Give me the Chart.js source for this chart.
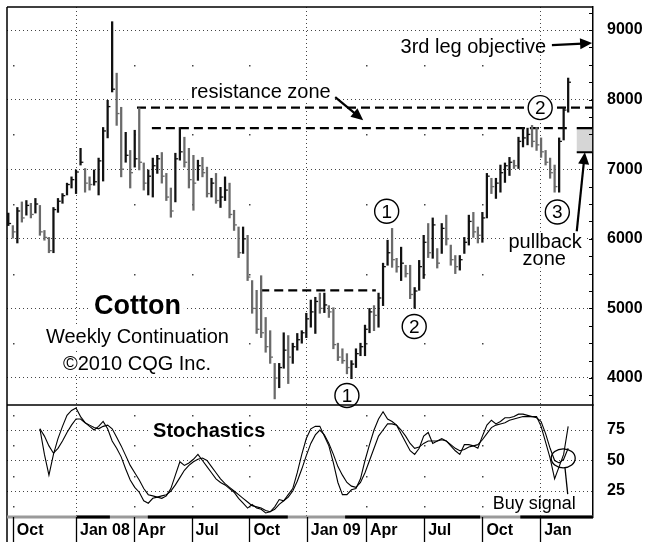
<!DOCTYPE html>
<html>
<head>
<meta charset="utf-8">
<script src="https://cdn.jsdelivr.net/npm/chart.js@4"></script>
<style>
html, body { margin: 0; padding: 0; background: #fff; }
</style>
</head>
<body>
<canvas id="myChart" width="647" height="542"></canvas>
<script>
// weekly bars, index 0 = last week of Sep 2007
const highs = [6370,6190,6450,6530,6550,6510,6580,6480,6120,6020,
  6450,6580,6650,6800,6890,6990,7300,7010,6890,6990,
  7160,7600,7990,9120,8380,7890,7530,7270,7560,7880,
  7090,6990,7160,7200,7240,6940,6730,7230,7600,7460,
  7300,7200,7130,7170,7030,6870,6940,6740,6890,6800,
  6410,6170,6170,6050,5400,5260,5470,4870,4680,4210,
  4210,4650,4610,4500,4640,4680,4930,5120,5160,5220,
  5220,5040,5010,4500,4420,4350,4250,4420,4500,4760,
  5000,5040,5220,5650,5980,6150,5720,5880,5620,5620,
  5300,5690,6050,6220,6300,5860,6220,6340,5910,5760,
  5760,6020,6340,6380,6170,6380,6940,6870,6870,7060,
  7090,7170,7130,7460,7600,7590,7630,7600,7450,7270,
  7160,7060,7450,7890,8310];
const lows = [6190,6010,5940,6240,6340,6300,6370,6050,5980,5800,
  5800,6380,6510,6630,6730,6650,7060,6670,6700,6770,
  6630,6830,7450,8110,7630,6890,7100,6730,7030,6990,
  6700,6630,6600,6940,6800,6550,6310,6530,7130,7030,
  6730,6410,6840,6890,6600,6600,6510,6450,6550,6300,
  6120,5730,5790,5400,4930,4640,4580,4370,4210,3700,
  3860,4140,3920,4210,4400,4500,4580,4730,4640,4930,
  4940,4870,4420,4250,4210,4060,3990,4150,4320,4320,
  4650,4680,4730,5040,5620,5590,5520,5400,5450,5140,
  5000,5260,5430,5730,5720,5580,5790,5910,5620,5500,
  5550,5790,5910,6020,5940,5950,6300,6650,6580,6670,
  6810,6910,7010,7010,7320,7350,7320,7270,7170,7060,
  6870,6670,6670,7420,7820];
const closes = [6220,6100,6400,6300,6480,6350,6500,6100,6020,5830,
  6420,6540,6620,6780,6850,6960,7100,6800,6780,6820,
  7120,7550,7900,8150,7800,7000,7200,6950,7150,7100,
  6800,6900,7050,7150,6900,6600,6400,7150,7250,7100,
  6850,6800,7050,6950,6650,6800,6550,6600,6700,6350,
  6200,5800,6000,5450,5000,4700,4650,4450,4300,4000,
  4150,4400,4300,4450,4550,4650,4850,4950,5100,5000,
  5050,4950,4480,4300,4250,4150,4200,4350,4450,4700,
  4950,4900,5150,5600,5800,5700,5600,5650,5500,5200,
  5250,5600,5950,5800,6200,5650,6150,6000,5700,5600,
  5700,5950,6250,6100,6050,6300,6900,6750,6800,6950,
  7050,7100,7050,7400,7450,7500,7400,7350,7250,7100,
  6950,6750,7400,7850,8250];
const stochK = [null,null,null,null,null,null,null,76,55,38,
  55,68,78,87,91,93,86,81,78,75,
  78,82,76,66,60,53,43,34,28,24,
  17,15,19,20,19,21,27,38,49,46,
  48,51,55,50,45,40,35,32,30,27,
  24,19,15,11,14,11,10,7,8,12,
  18,17,22,27,40,55,68,76,78,78,
  70,62,48,32,22,22,26,27,35,50,
  63,75,84,90,84,82,79,72,65,58,
  55,60,70,73,64,66,68,66,62,58,
  55,63,63,62,60,70,79,83,80,82,
  85,85,86,88,88,87,86,86,78,65,
  52,35,45,55,78];
const stochD = [null,null,null,null,null,null,null,76,70,62,
  56,60,66,73,79,84,84,81,79,77,
  76,78,79,76,69,62,54,46,40,34,
  27,22,21,20,21,22,25,30,36,42,
  46,49,51,52,50,45,40,35,31,28,
  25,22,19,16,13,12,11,9,8,10,
  14,17,20,25,33,43,54,64,71,75,
  71,64,55,45,38,32,29,28,32,40,
  50,60,70,75,80,80,79,75,70,64,
  60,61,64,66,66,66,67,66,63,60,
  58,59,61,62,63,67,72,77,79,80,
  81,83,84,85,86,86,86,85,82,72,
  60,50,48,51,60];

const priceTicks = [4000, 5000, 6000, 7000, 8000, 9000];
const stochTicks = [25, 50, 75];
const quarterTicks = [1.0, 15.0, 27.8, 40.6, 53.4, 66.1, 79.2, 92.1, 105.0, 117.8];
const quarterLabels = ['Oct', 'Jan 08', 'Apr', 'Jul', 'Oct', 'Jan 09', 'Apr', 'Jul', 'Oct', 'Jan'];
// black pieces of the contract bar under the stochastics
const rollBlack = [[15.2, 22.5], [30.9, 61.9], [74.6, 104.5], [113.4, 129.5]];

// chart notes (week index, price or stochastic value)
const resistanceTop = 7885, resistanceLow = 7590, neckline = 5260;
const FONT = "'Liberation Sans', Arial, sans-serif";

const notes = [
  {text: 'Cotton', x: 28.6, y: 5040, axis: 'y', font: 'bold 27px ' + FONT, bg: 26},
  {text: 'Weekly Continuation', x: 28.6, y: 4590, axis: 'y', font: '20px ' + FONT, bg: 22},
  {text: '\u00a92010 CQG Inc.', x: 28.5, y: 4215, axis: 'y', font: '20px ' + FONT, bg: 22},
  {text: 'resistance zone', x: 55.9, y: 8110, axis: 'y', font: '20px ' + FONT, bg: 20},
  {text: '3rd leg objective', x: 103.0, y: 8760, axis: 'y', font: '20px ' + FONT, bg: 0},
  {text: 'pullback', x: 118.9, y: 5965, axis: 'y', font: '20px ' + FONT, bg: 19},
  {text: 'zone', x: 118.7, y: 5715, axis: 'y', font: '20px ' + FONT, bg: 17},
  {text: 'Stochastics', x: 44.5, y: 74.5, axis: 'y2', font: 'bold 20px ' + FONT, bg: 20},
  {text: 'Buy signal', x: 116.5, y: 15.5, axis: 'y2', font: '18px ' + FONT, bg: 0}
];
const circled = [
  {n: '1', x: 75.0, y: 3748}, {n: '1', x: 83.8, y: 6395}, {n: '2', x: 89.9, y: 4741},
  {n: '2', x: 117.8, y: 7885}, {n: '3', x: 121.6, y: 6385}
];
const arrows = [
  {x1: 72.4, y1: 8036, x2: 78.6, y2: 7705},
  {x1: 120.4, y1: 8784, x2: 129.3, y2: 8813},
  {x1: 125.9, y1: 6108, x2: 127.7, y2: 7244}
];

Chart.defaults.font.family = FONT;
Chart.defaults.color = '#000';

function barColor(i) {
  return (i > 0 && closes[i] < closes[i - 1]) ? '#6a6a6a' : '#111';
}

function drawArrow(ctx, x1, y1, x2, y2) {
  const a = Math.atan2(y2 - y1, x2 - x1), h = 12, w = 5.5;
  ctx.lineWidth = 2.2;
  ctx.beginPath();
  ctx.moveTo(x1, y1);
  ctx.lineTo(x2 - Math.cos(a) * h * 0.8, y2 - Math.sin(a) * h * 0.8);
  ctx.stroke();
  ctx.beginPath();
  ctx.moveTo(x2, y2);
  ctx.lineTo(x2 - h * Math.cos(a) + w * Math.sin(a), y2 - h * Math.sin(a) - w * Math.cos(a));
  ctx.lineTo(x2 - h * Math.cos(a) - w * Math.sin(a), y2 - h * Math.sin(a) + w * Math.cos(a));
  ctx.closePath();
  ctx.fill();
}

// stop the axes from asking for extra room around their labels
function noPad(s) {
  s.paddingTop = 0; s.paddingBottom = 0; s.paddingLeft = 0; s.paddingRight = 0;
}

const overlay = {
  id: 'overlay',
  beforeDatasetsDraw(chart) {
    const {ctx, scales: {x, y, y2}} = chart;
    ctx.save();
    ctx.fillStyle = '#444';
    quarterTicks.forEach((q, k) => {
      if (quarterLabels[k].startsWith('Jan')) return;
      const px = Math.round(x.getPixelForValue(q));
      for (let v = 4500; v < 9300; v += 1000) ctx.fillRect(px, Math.round(y.getPixelForValue(v)), 1.5, 1.5);
      [12.5, 37.5, 62.5, 87.5].forEach(v => ctx.fillRect(px, Math.round(y2.getPixelForValue(v)), 1.5, 1.5));
    });
    ctx.restore();
  },
  afterDatasetsDraw(chart) {
    const {ctx, scales: {x, y, y2}} = chart;
    const sc = {y, y2};
    ctx.save();
    // close ticks
    ctx.lineWidth = 1.3;
    closes.forEach((c, i) => {
      const px = x.getPixelForValue(i), py = y.getPixelForValue(c);
      ctx.strokeStyle = barColor(i);
      ctx.beginPath(); ctx.moveTo(px, py); ctx.lineTo(px + 2.8, py); ctx.stroke();
    });
    // pullback zone box
    const bx1 = x.getPixelForValue(125.9), bx2 = x.getPixelForValue(129.3);
    const by1 = y.getPixelForValue(resistanceLow), by2 = y.getPixelForValue(7244);
    ctx.fillStyle = '#d6d6d6';
    ctx.fillRect(bx1, by1, bx2 - bx1, by2 - by1);
    ctx.strokeStyle = '#000';
    ctx.lineWidth = 2.2;
    ctx.beginPath(); ctx.moveTo(bx1, by1); ctx.lineTo(bx2, by1); ctx.moveTo(bx1, by2); ctx.lineTo(bx2, by2); ctx.stroke();
    // arrows
    ctx.fillStyle = '#000';
    arrows.forEach(a => drawArrow(ctx, x.getPixelForValue(a.x1), y.getPixelForValue(a.y1),
      x.getPixelForValue(a.x2), y.getPixelForValue(a.y2)));
    // texts
    ctx.textAlign = 'center';
    ctx.textBaseline = 'middle';
    notes.forEach(n => {
      const px = x.getPixelForValue(n.x), py = sc[n.axis].getPixelForValue(n.y);
      ctx.font = n.font;
      if (n.bg) {
        const w = ctx.measureText(n.text).width;
        ctx.fillStyle = '#fff';
        ctx.fillRect(px - w / 2 - 3, py - n.bg / 2, w + 6, n.bg);
      }
      ctx.fillStyle = '#000';
      ctx.fillText(n.text, px, py + 1);
    });
    // circled wave numbers
    ctx.font = '19px ' + FONT;
    ctx.lineWidth = 1.4;
    circled.forEach(c => {
      const px = x.getPixelForValue(c.x), py = y.getPixelForValue(c.y);
      ctx.beginPath(); ctx.arc(px, py, 12, 0, Math.PI * 2);
      ctx.fillStyle = '#fff'; ctx.fill(); ctx.stroke();
      ctx.fillStyle = '#000'; ctx.fillText(c.n, px, py + 1);
    });
    // buy signal ring and pointer
    const cx = x.getPixelForValue(122.9), cy = y2.getPixelForValue(51.8);
    ctx.lineWidth = 1.3;
    ctx.beginPath(); ctx.ellipse(cx, cy, 12, 9.5, 0, 0, Math.PI * 2); ctx.stroke();
    ctx.beginPath();
    ctx.moveTo(x.getPixelForValue(123.3), y2.getPixelForValue(43.9));
    ctx.lineTo(x.getPixelForValue(123.9), y2.getPixelForValue(22.5));
    ctx.stroke();
    ctx.restore();
  },
  afterDraw(chart) {
    const {ctx, chartArea: area, scales: {x, y, y2}} = chart;
    ctx.save();
    ctx.strokeStyle = '#000';
    // frame and panel divider
    ctx.lineWidth = 1.5;
    ctx.beginPath();
    ctx.moveTo(area.left, area.top); ctx.lineTo(area.right, area.top);
    ctx.moveTo(area.left, area.top); ctx.lineTo(area.left, chart.height);
    ctx.moveTo(area.left, y2.top); ctx.lineTo(area.right, y2.top);
    ctx.stroke();
    // minor ticks on the price axis
    ctx.lineWidth = 1;
    for (let v = 3750; v < 9331; v += 250) {
      const py = Math.round(y.getPixelForValue(v)) + 0.5;
      ctx.beginPath(); ctx.moveTo(area.right - 4, py); ctx.lineTo(area.right, py); ctx.stroke();
    }
    // contract bar along the bottom of the stochastics
    ctx.lineWidth = 3;
    ctx.strokeStyle = '#9a9a9a';
    ctx.beginPath(); ctx.moveTo(area.left, area.bottom); ctx.lineTo(area.right, area.bottom); ctx.stroke();
    ctx.strokeStyle = '#000';
    rollBlack.forEach(([a, b]) => {
      ctx.beginPath();
      ctx.moveTo(Math.max(area.left, x.getPixelForValue(a)), area.bottom);
      ctx.lineTo(Math.min(area.right, x.getPixelForValue(b)), area.bottom);
      ctx.stroke();
    });
    // quarter separators in the date strip
    ctx.lineWidth = 1.3;
    quarterTicks.forEach(q => {
      const px = Math.round(x.getPixelForValue(q)) + 0.5;
      ctx.beginPath(); ctx.moveTo(px, area.bottom); ctx.lineTo(px, chart.height); ctx.stroke();
    });
    ctx.restore();
  }
};

const ctx = document.getElementById('myChart').getContext('2d');
const dashed = (pts) => ({
  type: 'line', data: pts, yAxisID: 'y', borderColor: '#000', borderWidth: 2.2,
  borderDash: [9, 5], pointRadius: 0, tension: 0
});

const myChart = new Chart(ctx, {
  type: 'bar',
  data: {
    datasets: [
      {
        type: 'bar',
        label: 'Cotton',
        data: highs.map((h, i) => ({x: i, y: [lows[i], h]})),
        yAxisID: 'y',
        barThickness: 1.6,
        backgroundColor: c => barColor(c.dataIndex),
        borderWidth: 0
      },
      {
        type: 'line', label: '%K', yAxisID: 'y2',
        data: stochK.map((v, i) => ({x: i, y: v})),
        borderColor: '#000', borderWidth: 1.1, pointRadius: 0, tension: 0
      },
      {
        type: 'line', label: '%D', yAxisID: 'y2',
        data: stochD.map((v, i) => ({x: i, y: v})),
        borderColor: '#000', borderWidth: 1.1, pointRadius: 0, tension: 0
      },
      dashed([{x: 28.5, y: resistanceTop}, {x: 129.5, y: resistanceTop}]),
      dashed([{x: 31.8, y: resistanceLow}, {x: 123.7, y: resistanceLow}]),
      dashed([{x: 55.8, y: neckline}, {x: 81.4, y: neckline}])
    ]
  },
  options: {
    responsive: false,
    animation: false,
    layout: {padding: {left: 7, top: 7, right: 0, bottom: 0}},
    plugins: {legend: {display: false}, tooltip: {enabled: false}},
    scales: {
      x: {
        type: 'linear', position: 'bottom', min: -0.29, max: 129.5,
        offset: false,
        afterBuildTicks: s => { s.ticks = quarterTicks.map(v => ({value: v})); },
        afterFit: s => { s.height = 25; noPad(s); },
        ticks: {
          callback: (v, i) => quarterLabels[i],
          align: 'start', labelOffset: 4, padding: 4,
          autoSkip: false, maxRotation: 0,
          font: {size: 16, weight: 'bold'}, color: '#000'
        },
        grid: {
          offset: false, drawTicks: false, lineWidth: 1,
          color: c => (quarterLabels[c.index] || '').startsWith('Jan') ? '#444' : 'rgba(0,0,0,0)'
        },
        border: {display: false, dash: [1, 3]}
      },
      y: {
        type: 'linear', position: 'right', stack: 'panels', stackWeight: 398,
        min: 3612, max: 9331,
        afterBuildTicks: s => { s.ticks = priceTicks.map(v => ({value: v})); },
        afterFit: s => { s.width = 54; noPad(s); },
        ticks: {padding: 14, font: {size: 16, weight: 'bold'}, color: '#000', callback: v => String(v)},
        grid: {color: '#444', lineWidth: 1, drawTicks: false},
        border: {display: true, color: '#000', width: 1.5, dash: [1, 3]}
      },
      y2: {
        type: 'linear', position: 'right', stack: 'panels', stackWeight: 112,
        min: 3.7, max: 95.5,
        afterBuildTicks: s => { s.ticks = stochTicks.map(v => ({value: v})); },
        afterFit: s => { s.width = 54; noPad(s); },
        ticks: {padding: 14, font: {size: 16, weight: 'bold'}, color: '#000', callback: v => String(v)},
        grid: {color: '#444', lineWidth: 1, drawTicks: false},
        border: {display: true, color: '#000', width: 1.5, dash: [1, 3]}
      }
    }
  },
  plugins: [overlay]
});
</script>
</body>
</html>
